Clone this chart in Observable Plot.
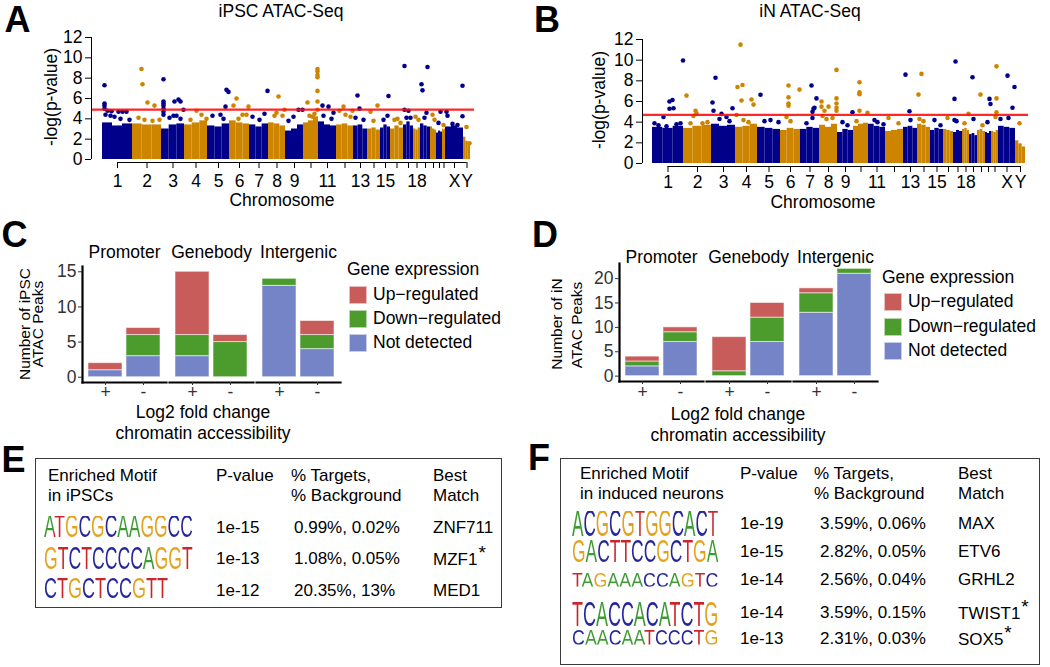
<!DOCTYPE html>
<html><head><meta charset="utf-8">
<script src="https://cdn.jsdelivr.net/npm/d3@7"></script>
<script src="https://cdn.jsdelivr.net/npm/@observablehq/plot@0.6"></script>
<style>
body{margin:0;background:#fff;font-family:"Liberation Sans",Arial,Helvetica,sans-serif;color:#000;}
#root{position:relative;width:1050px;height:667px;overflow:hidden;background:#fff;}
.t{position:absolute;white-space:nowrap;line-height:1;}
.box{position:absolute;border:1.6px solid #3a3a3a;box-sizing:border-box;}
.sw{position:absolute;width:18px;height:18px;box-sizing:border-box;border:1px solid rgba(255,255,255,0.6);}
.logo{position:absolute;white-space:nowrap;font-size:20px;line-height:14.4px;height:14.4px;transform-origin:0 0;}
</style></head><body><div id="root"></div><script>
// ================= DATA =================
const chromLabels = ["1","2","3","4","5","6","7","8","9","10","11","12","13","14","15","16","17","18","19","20","21","22","X","Y"];
const shownChromLabels = ["1","2","3","4","5","6","7","8","9","11","13","15","18","X","Y"];
// relative width (number of peaks) of each chromosome block
const chromWidthA = [30,29,23,23,22,20,19,17,18,15,18,17,14,13,10,13,10,7,10,6,6,3,18,7];
const chromWidthB = [31,28,24,22,23,20,19,18,16,15,17,18,14,13,13,10,9,7,8,8,6,7,17,10];
// upper envelope of the dense cloud of peaks, per chromosome (-log p)
const envelopeA = [[3.6,3.3,3.5],[3.5,3.4,3.4],[3.0,3.4,3.5],[3.4,3.6,3.8],[3.3,3.2,3.5],[3.8,3.6,3.5],[3.4,3.2,3.5],[3.6,3.5,3.3],[2.8,3.0,3.4],[3.6,3.8,4.2],[3.7,3.4,3.3],[3.4,3.5,3.3],[3.3,3.4,3.0],[3.0,3.1,2.9],[3.1,3.4,3.2],[3.0,3.3,3.1],[3.4,3.7,3.3],[3.0,2.9,3.1],[3.5,3.3,3.2],[3.2,3.0,2.9],[2.6,2.8,2.7],[3.0,2.9,3.0],[3.2,3.3,3.1],[2.2,1.8,1.5]];
const envelopeB = [[3.5,3.4,3.6],[3.4,3.6,3.7],[3.8,3.6,3.7],[3.5,3.6,3.8],[3.5,3.4,3.3],[3.2,3.4,3.3],[3.3,3.5,3.4],[3.7,3.5,3.8],[3.0,3.3,3.2],[3.6,3.8,3.9],[3.8,3.6,3.5],[3.1,3.2,3.3],[3.5,3.6,3.4],[3.8,3.7,3.5],[3.2,3.4,3.3],[3.3,3.2,3.1],[3.0,3.2,3.1],[3.3,3.4,3.2],[2.8,2.9,2.7],[3.2,3.3,3.1],[3.0,2.9,3.1],[3.1,3.0,3.2],[3.6,3.5,3.4],[2.2,1.9,1.6]];
// individual peaks standing out of the cloud: [genome position (peak index units), -log p]
const peaksA = [[2,7.3],[2,5.5],[2,5.3],[2,5.0],[5,4.8],[9,4.75],[16,4.7],[20,4.7],[24,4.7],[3,4.4],[12,4.2],[18,4.0],[27,3.9],[8,4.3],
[39,8.9],[40,7.4],[45,5.6],[52,5.3],[36,4.1],[42,3.9],[50,3.8],[57,3.9],
[61,7.9],[61,5.7],[61,5.5],[61,5.3],[61,5.0],[61,4.7],[61,4.4],[72,5.7],[76,5.9],[78,5.7],[81,4.9],[67,4.1],[78,4.0],[74,4.3],[71,4.3],
[94,4.8],[99,4.4],[104,4.0],[88,3.9],
[123,5.2],[124,6.85],[126,6.65],[110,4.3],[118,4.4],[121,4.0],
[134,6.0],[131,5.3],[146,5.2],[140,4.4],[144,4.4],[136,4.0],
[165,6.75],[162,4.5],[150,4.2],[157,3.9],
[176,6.2],[174,4.6],[172,4.3],[180,4.3],[182,4.9],
[196,4.9],[200,4.9],[191,4.2],[186,3.8],
[205,5.6],[207,4.3],[215,8.9],[215,8.65],[215,8.3],[215,8.1],[215,6.75],[215,5.7],[215,4.9],[212,4.5],[210,4.2],
[220,5.3],[226,5.2],[231,4.6],[221,4.3],[229,4.0],
[241,5.2],[250,4.8],[237,4.8],[243,4.4],[248,4.2],
[255,6.3],[257,5.0],[253,4.1],[261,3.9],
[268,4.7],[275,5.3],[271,3.8],
[286,6.25],[285,4.3],[281,3.9],
[292,3.9],[295,4.0],[298,3.6],
[302,9.2],[302,4.9],[306,4.8],[304,4.1],[308,4.1],
[313,4.2],[316,3.9],
[319,7.4],[320,6.8],[325,9.1],[324,4.6],[322,4.1],
[330,4.4],[332,3.9],
[338,4.7],[336,3.6],
[341,3.4],
[344,4.7],[345,4.3],[360,7.25],[360,4.25],[350,3.5],[355,3.4],
[364,3.2],[367,1.6]];
const peaksB = [[2,3.9],[11,4.5],[17,6.0],[20,6.15],[17,5.3],[21,5.35],[28,3.9],[6,3.7],[14,3.6],[24,3.8],[30.5,9.97],
[34,6.57],[43,5.1],[44,4.85],[41,4.6],[38,3.9],[50,3.9],[55,4.0],
[60,5.9],[61,5.1],[63,8.3],[69,4.8],[74,4.5],[80,5.35],[67,4.3],[77,4.1],
[85,7.4],[90,7.6],[89,6.1],[88,11.5],[99,6.2],[101,5.7],[84,4.7],[91,4.2],[96,4.0],
[108,6.65],[112,4.1],[118,4.2],[126,4.0],
[136,7.55],[136,6.4],[136,5.8],[136,5.6],[134,4.5],[138,4.1],[147,7.15],
[159,7.55],[164,6.3],[161,5.3],[162,5.4],[160,5.0],[160,4.4],[154,3.9],
[169,6.0],[169,5.5],[172,5.1],[176,5.5],[170,4.6],[174,4.3],[184,9.06],[184,6.3],[184,5.8],[184,5.4],[184,5.1],[180,4.4],
[200,4.95],[190,4.0],[195,3.7],
[207,7.86],[207,6.9],[207,6.7],[207,5.1],[215,4.9],[204,4.1],
[222,4.2],[225,4.0],[231,3.8],
[236,4.4],[246,3.9],
[253,8.6],[257,5.05],[258,4.2],
[269,8.67],[266,6.67],[267,4.3],[271,4.1],
[282,4.2],[288,3.7],
[295,4.4],
[303,9.87],[302,6.25],[302,4.2],[304,4.1],
[312,3.9],[316,4.8],
[320,8.35],[321,4.3],
[328,6.67],[330,3.7],
[337,6.25],[338,5.76],[335,4.0],
[344,9.4],[344,6.3],[344,4.95],[343,4.5],
[355,8.5],[360,5.4],[348,4.3],[356,4.4],[362,7.4],
[367,3.9]];
const thresholdA = 4.9, thresholdB = 4.7;

const regions = ["Promoter","Genebody","Intergenic"];
const directions = ["+","-"];
const exprCats = ["Up\u2212regulated","Down\u2212regulated","Not detected"];
// counts per bar, bars in order Promoter+, Promoter-, Genebody+, Genebody-, Intergenic+, Intergenic-
const upC   = [1,1,9,1,0,2];
const downC = [0,3,3,5,1,2];
const notC  = [1,3,3,0,13,4];
const upD   = [1,1,7,3,1,0];
const downD = [1,2,1,5,4,1];
const notD  = [2,7,0,7,13,21];

const motifHeader = ["P-value","% Targets,","% Background","Best","Match"];
const motifsE = ["ATGCGCAAGGCC","GTCTCCCCAGGT","CTGCTCCGTT"];
const pvalE = ["1e-15","1e-13","1e-12"];
const pctE = ["0.99%, 0.02%","1.08%, 0.05%","20.35%, 13%"];
const matchE = ["ZNF711","MZF1","MED1"];
const starE = [false,true,false];
const motifsF = ["ACGCGTGGCACT","GACTTCCGCTGA","TAGAAACCAGTC","TCACCACATCTG","CAACAATCCCTG"];
const pvalF = ["1e-19","1e-15","1e-14","1e-14","1e-13"];
const pctF = ["3.59%, 0.06%","2.82%, 0.05%","2.56%, 0.04%","3.59%, 0.15%","2.31%, 0.03%"];
const matchF = ["MAX","ETV6","GRHL2","TWIST1","SOX5"];
const starF = [false,false,false,true,true];

// ================= STYLE =================
const FONT = '"Liberation Sans", Arial, Helvetica, sans-serif';
const manColors = ["#00008b", "#cd8500"];
const barColors = ["#c75c5a", "#4b9b2d", "#7584c6"];
const baseColors = {A: "#3d9b33", C: "#26269c", G: "#e2a21e", T: "#c8262b"};

const root = document.getElementById("root");
function text(s, x, y, {size = 17.5, anchor = "middle", rotate = 0, weight = "normal", color = "#000"} = {}) {
  const d = document.createElement("div");
  d.className = "t"; d.textContent = s;
  Object.assign(d.style, {left: x + "px", top: y + "px", fontSize: size + "px", fontWeight: weight, color});
  const tx = anchor === "middle" ? "-50%" : anchor === "end" ? "-100%" : "0";
  d.style.transform = `translate(${tx},-50%)` + (rotate ? ` rotate(${rotate}deg)` : "");
  root.appendChild(d); return d;
}
function put(node, left, top) {
  node.style.position = "absolute"; node.style.left = left + "px"; node.style.top = top + "px";
  root.appendChild(node);
}

// ================= MANHATTAN =================
function manhattan({widths, envelope, peaks, thr, xdom, width, height, margins, xPad}) {
  const starts = [];
  widths.reduce((s, w) => (starts.push(s), s + w), 0);
  const mids = widths.map((w, i) => starts[i] + w / 2);
  const chromOf = x => { let k = 0; for (let i = 0; i < starts.length; i++) if (x >= starts[i]) k = i; return k; };
  const envRows = [];
  envelope.forEach((segs, i) => {
    const w = widths[i] / segs.length;
    segs.forEach((h, j) => envRows.push({x1: starts[i] + j * w, x2: starts[i] + (j + 1) * w, h, c: manColors[i % 2]}));
  });
  const peakRows = peaks.map(([x, v]) => ({x, v, c: manColors[chromOf(x) % 2]}));
  const labelMap = new Map(mids.map((m, i) => [m, shownChromLabels.includes(chromLabels[i]) ? chromLabels[i] : ""]));
  return Plot.plot({
    width, height, ...margins,
    style: {fontFamily: FONT, background: "transparent", overflow: "visible", color: "#000"},
    x: {domain: xdom, axis: null},
    y: {domain: [0, 12], axis: null},
    marks: [
      Plot.rect(envRows, {x1: "x1", x2: "x2", y1: () => 0, y2: "h", fill: "c"}),
      Plot.dot(peakRows, {x: "x", y: "v", r: 2.3, fill: "c"}),
      Plot.ruleY([thr], {stroke: "#ff1010", strokeWidth: 2.2, strokeOpacity: 0.9}),
      Plot.ruleX([xdom[0]], {y1: () => 0, y2: () => 12, stroke: "#000", strokeWidth: 1}),
      Plot.axisY({ticks: [0, 2, 4, 6, 8, 10, 12], tickSize: 6, tickPadding: 3, fontSize: 17.5, label: null}),
      Plot.ruleY([0], {x1: () => mids[0], x2: () => mids[mids.length - 1], dy: 3, stroke: "#000"}),
      Plot.axisX({ticks: mids, tickFormat: d => labelMap.get(d), tickSize: 6, tickPadding: xPad, dy: 3, fontSize: 17.5, label: null})
    ]
  });
}
put(manhattan({widths: chromWidthA, envelope: envelopeA, peaks: peaksA, thr: thresholdA, xdom: [-11, 372], xPad: 6,
  width: 525, height: 215, margins: {marginLeft: 91, marginRight: 51, marginTop: 37, marginBottom: 56}}), 0, 0);
put(manhattan({widths: chromWidthB, envelope: envelopeB, peaks: peaksB, thr: thresholdB, xdom: [-10, 376], xPad: 3,
  width: 525, height: 215, margins: {marginLeft: 117, marginRight: 22, marginTop: 39, marginBottom: 52}}), 525, 0);

text("A", 17.5, 20, {size: 36, weight: "bold"});
text("B", 547, 20, {size: 36, weight: "bold"});
text("iPSC ATAC-Seq", 281, 12);
text("iN ATAC-Seq", 810, 12);
text("-log(p-value)", 52, 97, {rotate: -90});
text("-log(p-value)", 600, 100, {rotate: -90});
text("Chromosome", 282, 201);
text("Chromosome", 823, 203);

// ================= STACKED BARS =================
function barRows(up, down, nd) {
  const rows = [];
  regions.forEach((r, i) => directions.forEach((dir, j) => {
    const k = i * 2 + j;
    [[exprCats[2], nd[k]], [exprCats[1], down[k]], [exprCats[0], up[k]]].forEach(([e, n]) => { if (n > 0) rows.push({region: r, dir, expr: e, n}); });
  }));
  return rows;
}
function bars({rows, ydom, yticks, width, height, margins, fxPad, xPad}) {
  return Plot.plot({
    width, height, ...margins,
    style: {fontFamily: FONT, background: "transparent", overflow: "visible", color: "#000"},
    fx: {domain: regions, paddingInner: 0.04, paddingOuter: 0, label: null},
    x: {domain: directions, paddingInner: 0.1, paddingOuter: 0.15, label: null},
    y: {domain: ydom, label: null},
    color: {domain: exprCats, range: barColors},
    marks: [
      Plot.barY(rows, {fx: "region", x: "dir", y: "n", fill: "expr", stroke: "#fff", strokeOpacity: 0.55, strokeWidth: 1}),
      Plot.frame({anchor: "bottom", strokeWidth: 2.2}),
      Plot.frame({anchor: "left", facetAnchor: "left", strokeWidth: 2.2}),
      Plot.axisY({ticks: yticks, tickSize: 4, tickPadding: 2, fontSize: 17.5, label: null, color: "#333"}),
      Plot.axisX({tickSize: 3, tickPadding: xPad, fontSize: 17.5, label: null, color: "#333"}),
      Plot.axisFx({anchor: "top", tickSize: 0, tickPadding: fxPad, fontSize: 17.5, label: null})
    ]
  });
}
put(bars({rows: barRows(upC, downC, notC), ydom: [-0.75, 15.75], yticks: [0, 5, 10, 15], width: 350, height: 230,
  margins: {marginLeft: 82, marginRight: 10, marginTop: 51, marginBottom: 63}, fxPad: 9, xPad: 0}), 0, 215);
put(bars({rows: barRows(upD, downD, notD), ydom: [-1.1, 23.1], yticks: [0, 5, 10, 15, 20], width: 360, height: 230,
  margins: {marginLeft: 93, marginRight: 8, marginTop: 48, marginBottom: 64}, fxPad: 1, xPad: 1}), 525, 215);

text("C", 14.5, 235, {size: 36, weight: "bold"});
text("D", 545, 235, {size: 36, weight: "bold"});
text("Number of iPSC", 25, 324, {rotate: -90, size: 15.5});
text("ATAC Peaks", 38, 324, {rotate: -90, size: 15.5});
text("Number of iN", 557, 324, {rotate: -90, size: 15.5});
text("ATAC Peaks", 577, 325, {rotate: -90, size: 15.5});
text("Log2 fold change", 203, 413);
text("chromatin accessibility", 203, 434);
text("Log2 fold change", 738, 415);
text("chromatin accessibility", 738, 436);

function legend(x, yTitle, ys) {
  text("Gene expression", x - 2, yTitle, {anchor: "start"});
  exprCats.forEach((e, i) => {
    const s = document.createElement("div"); s.className = "sw";
    Object.assign(s.style, {left: x + "px", top: (ys[i] - 9) + "px", background: barColors[i]});
    root.appendChild(s);
    text(e, x + 24, ys[i], {anchor: "start"});
  });
}
legend(349, 270, [295, 319, 343]);
legend(884, 278, [302, 327, 351]);

// ================= MOTIF TABLES =================
// sequence logo row: one text run, each letter coloured through a clipped gradient,
// scaled so that the cap height fills H and the row fills `width`
function logo(seq, x0, baseline, H, width) {
  const d = document.createElement("div"); d.className = "logo";
  Object.assign(d.style, {left: x0 + "px", top: (baseline - H) + "px"});
  const spans = [...seq].map(b => { const s = document.createElement("span"); s.textContent = b; d.appendChild(s); return s; });
  root.appendChild(d);
  const stops = [];
  spans.forEach((s, i) => {
    const a = s.offsetLeft, e = a + s.offsetWidth, c = baseColors[seq[i]];
    stops.push(`${c} ${a}px`, `${c} ${e}px`);
  });
  const w = d.getBoundingClientRect().width;
  d.textContent = seq;
  Object.assign(d.style, {
    backgroundImage: `linear-gradient(to right, ${stops.join(", ")})`,
    webkitBackgroundClip: "text", backgroundClip: "text", color: "transparent",
    width: w + "px",
    transform: `scale(${(width / w).toFixed(3)},${(H / 14.4).toFixed(3)})`
  });
}
function motifTable({box, title2, cols, hdrY, rowsY, motifs, pval, pct, match, star, logoX, slot, logoBase, logoH}) {
  const b = document.createElement("div"); b.className = "box";
  Object.assign(b.style, {left: box[0] + "px", top: box[1] + "px", width: box[2] + "px", height: box[3] + "px"});
  root.appendChild(b);
  text("Enriched Motif", cols[0], hdrY[0], {anchor: "start", size: 17});
  text(title2, cols[0], hdrY[1], {anchor: "start", size: 17});
  text(motifHeader[0], cols[1], hdrY[0], {anchor: "start", size: 17});
  text(motifHeader[1], cols[2], hdrY[0], {anchor: "start", size: 17});
  text(motifHeader[2], cols[2], hdrY[1], {anchor: "start", size: 17});
  text(motifHeader[3], cols[4], hdrY[0], {anchor: "start", size: 17});
  text(motifHeader[4], cols[4], hdrY[1], {anchor: "start", size: 17});
  motifs.forEach((m, i) => {
    logo(m, logoX, logoBase[i], logoH[i], slot * m.length);
    text(pval[i], cols[1], rowsY[i], {anchor: "start", size: 17});
    text(pct[i], cols[3], rowsY[i], {anchor: "start", size: 17});
    const t = text(match[i], cols[4], rowsY[i], {anchor: "start", size: 17});
    if (star[i]) {
      const s = document.createElement("span"); s.textContent = "*";
      Object.assign(s.style, {fontSize: "19px", lineHeight: "1", display: "inline-block", position: "relative", top: "-6px", marginLeft: "1px"});
      t.appendChild(s);
    }
  });
}
motifTable({box: [35, 458, 467, 150], title2: "in iPSCs", cols: [48, 216, 291, 294, 433], hdrY: [475, 495],
  rowsY: [527, 558, 590], motifs: motifsE, pval: pvalE, pct: pctE, match: matchE, star: starE,
  logoX: 44, slot: 12.4, logoBase: [538, 570, 599], logoH: [22, 23, 21]});
motifTable({box: [560, 458, 480, 207], title2: "in induced neurons", cols: [580, 740, 814, 820, 958], hdrY: [473, 493],
  rowsY: [523, 551, 579, 612, 638], motifs: motifsF, pval: pvalF, pct: pctF, match: matchF, star: starF,
  logoX: 572, slot: 12.2, logoBase: [537, 563, 587, 627, 645], logoH: [26, 23, 15, 25, 16]});
text("E", 13.5, 460, {size: 36, weight: "bold"});
text("F", 539, 458, {size: 36, weight: "bold"});
</script></body></html>
